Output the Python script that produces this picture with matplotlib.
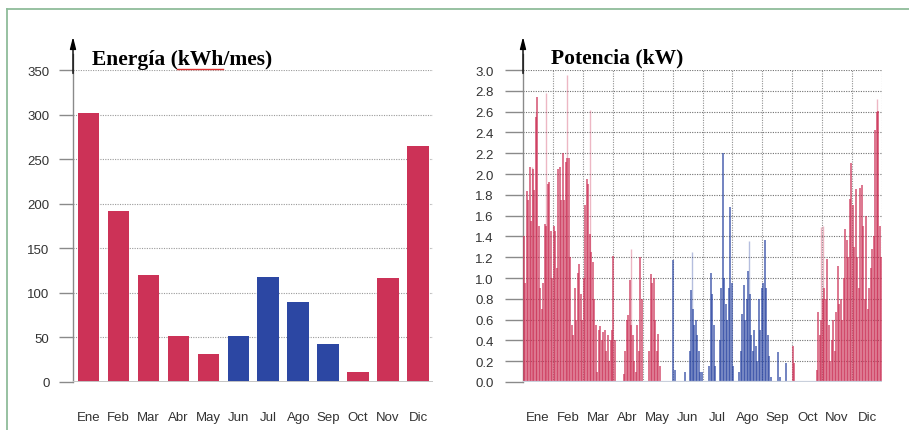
import matplotlib
matplotlib.use("Agg")
import matplotlib.pyplot as plt
from matplotlib.lines import Line2D
import numpy as np

# ---------------- data ----------------
meses = ["Ene", "Feb", "Mar", "Abr", "May", "Jun", "Jul", "Ago", "Sep", "Oct", "Nov", "Dic"]
energia = [302, 192, 120, 52, 31, 52, 118, 90, 43, 11, 117, 265]
es_azul = [False, False, False, False, False, True, True, True, True, False, False, False]

yticks_energia = [0, 50, 100, 150, 200, 250, 300, 350]
yticks_potencia = [0.0, 0.2, 0.4, 0.6, 0.8, 1.0, 1.2, 1.4, 1.6, 1.8, 2.0, 2.2, 2.4, 2.6, 2.8, 3.0]

# potencia: 20 muestras (picos) por mes, kW
pot_ene = [1.40, 0.95, 1.84, 1.75, 2.07, 1.55, 2.05, 1.85, 2.55, 2.74,
           1.50, 0.90, 0.70, 0.95, 1.52, 1.50, 1.90, 1.92, 1.45, 1.00]
pot_feb = [1.50, 1.45, 1.10, 2.05, 2.07, 1.75, 2.20, 1.75, 2.12, 2.15,
           2.15, 1.20, 0.55, 0.45, 0.90, 0.60, 1.05, 1.13, 0.85, 0.60]
pot_mar = [1.00, 1.70, 1.95, 1.90, 1.42, 1.25, 1.15, 0.80, 0.55, 0.10,
           0.50, 0.54, 0.40, 0.48, 0.50, 0.30, 0.45, 0.20, 0.40, 0.50]
pot_abr = [1.21, 0.40, 0.00, 0.00, 0.00, 0.00, 0.00, 0.08, 0.30, 0.60,
           0.64, 0.98, 0.55, 0.45, 0.20, 0.10, 0.55, 0.30, 1.20, 0.80]
pot_may = [0.00, 0.00, 0.00, 0.00, 0.30, 1.04, 0.95, 1.00, 0.60, 0.30,
           0.46, 0.15, 0.00, 0.00, 0.00, 0.00, 0.00, 0.00, 0.00, 0.00]
pot_jun = [1.17, 0.12, 0.00, 0.00, 0.00, 0.00, 0.00, 0.00, 0.10, 0.00,
           0.00, 0.30, 0.88, 0.70, 0.55, 0.60, 0.45, 0.30, 0.10, 0.10]
pot_jul = [0.00, 0.00, 0.00, 0.00, 0.15, 1.05, 0.85, 0.55, 0.15, 0.00,
           0.00, 0.40, 0.90, 2.20, 1.00, 0.75, 0.60, 0.90, 1.68, 0.95]
pot_ago = [0.15, 0.00, 0.00, 0.00, 0.10, 0.30, 0.65, 0.93, 0.60, 0.80,
           1.07, 0.85, 0.45, 0.30, 0.50, 0.35, 0.20, 0.80, 0.50, 0.90]
pot_sep = [0.95, 1.37, 0.90, 0.45, 0.25, 0.05, 0.00, 0.00, 0.00, 0.00,
           0.29, 0.05, 0.00, 0.00, 0.00, 0.18, 0.00, 0.00, 0.00, 0.00]
pot_oct = [0.35, 0.18, 0.00, 0.00, 0.00, 0.00, 0.00, 0.00, 0.00, 0.00,
           0.00, 0.00, 0.00, 0.00, 0.00, 0.00, 0.12, 0.67, 0.45, 0.60]
pot_nov = [0.80, 0.90, 0.80, 1.18, 0.55, 0.20, 0.40, 0.60, 0.30, 0.67,
           1.12, 0.75, 0.80, 0.60, 1.00, 1.47, 1.37, 1.20, 1.76, 2.11]
pot_dic = [1.70, 1.30, 1.86, 1.20, 0.90, 1.87, 1.89, 1.50, 0.80, 1.60,
           0.70, 0.90, 1.10, 1.28, 1.40, 2.42, 2.60, 2.61, 1.50, 1.20]
potencia = [pot_ene, pot_feb, pot_mar, pot_abr, pot_may, pot_jun,
            pot_jul, pot_ago, pot_sep, pot_oct, pot_nov, pot_dic]

# picos aislados (más claros), posición en meses desde el 1 de enero
picos_x = [0.30, 0.42, 0.77, 1.48, 2.23, 3.62, 5.65, 7.57, 9.97, 10.03, 11.83]
picos_y = [2.07, 2.60, 2.78, 2.95, 2.62, 1.28, 1.25, 1.36, 1.49, 1.50, 2.72]

# ---------------- style ----------------
ROJO = "#CC3257"
AZUL = "#2C47A3"
W, H = 909, 431
font = "Liberation Sans"
serif = "Liberation Serif"

fig = plt.figure(figsize=(W / 100, H / 100), dpi=100)
fig.patch.set_facecolor("white")


def px_axes(x0, x1, y_top, y_bot):
    return fig.add_axes([x0 / W, 1 - y_bot / H, (x1 - x0) / W, (y_bot - y_top) / H])


def style_axes(ax):
    for s in ["top", "right", "bottom"]:
        ax.spines[s].set_visible(False)
    ax.spines["left"].set_color("#8a8a8a")
    ax.spines["left"].set_linewidth(1.0)
    ax.tick_params(axis="y", length=10, width=1.0, color="#8a8a8a", pad=7,
                   labelsize=9.5, labelcolor="#333333")
    ax.tick_params(axis="x", length=0, pad=21, labelsize=9.5, labelcolor="#333333")
    for lab in ax.get_xticklabels() + ax.get_yticklabels():
        lab.set_family(font)
    # upward arrow on the y axis
    ax.annotate("", xy=(0, 1.115), xytext=(0, 0.98), xycoords="axes fraction",
                arrowprops=dict(arrowstyle="-|>,head_length=0.7,head_width=0.18",
                                color="black", lw=1.0), annotation_clip=False)
    ax.plot([0, 0], [1.0, 1.05], transform=ax.transAxes, color="#8a8a8a",
            lw=1.0, clip_on=False)


# ---------------- left: energía ----------------
ax1 = px_axes(73, 433, 71, 383)
x = np.arange(len(meses))
colores = [AZUL if b else ROJO for b in es_azul]
ax1.bar(x, energia, width=0.72, color=colores, zorder=3)
ax1.set_xlim(-0.52, 11.5)
ax1.set_ylim(0, 350)
ax1.set_yticks(yticks_energia)
ax1.set_yticklabels([str(v) for v in yticks_energia])
ax1.set_xticks(x)
ax1.set_xticklabels(meses)
for v in yticks_energia[1:]:
    ax1.axhline(v, color="#9a9a9a", lw=0.8, ls=(0, (1, 1.2)), zorder=1)
ax1.axhline(0, color="#c4c4c4", lw=1.4, zorder=4)
style_axes(ax1)

fig.text(92 / W, 1 - 60 / H, "Energía (kWh/mes)", family=serif, weight="bold",
         fontsize=15.5, va="center", ha="left", color="black")
fig.add_artist(Line2D([177 / W, 223 / W], [1 - 70 / H, 1 - 70 / H],
                      color="#e03030", lw=1.0))

# ---------------- right: potencia ----------------
ax2 = px_axes(523, 882, 71, 383)
ax2.set_xlim(0, 12)
ax2.set_ylim(0, 3.0)
n = len(pot_ene)
for m, vals in enumerate(potencia):
    c = AZUL if es_azul[m] else ROJO
    xs = m + (np.arange(n) + 0.5) / n
    vals = np.asarray(vals)
    mask = vals > 0
    ax2.vlines(xs[mask], 0, vals[mask], color=c, lw=1.1, alpha=0.85, zorder=3)
for px_, py_ in zip(picos_x, picos_y):
    c = AZUL if es_azul[int(px_)] else ROJO
    ax2.vlines(px_, 0, py_, color=c, lw=1.0, alpha=0.35, zorder=2)

ax2.set_yticks(yticks_potencia)
ax2.set_yticklabels([f"{v:.1f}" for v in yticks_potencia])
ax2.set_xticks(np.arange(12) + 0.5)
ax2.set_xticklabels(meses)
for v in yticks_potencia[1:]:
    ax2.axhline(v, color="#707070", lw=0.8, ls=(0, (1, 1.2)), zorder=1)
for m in range(1, 13):
    ax2.axvline(m, color="#909090", lw=0.8, ls=(0, (1, 1.2)), zorder=1)
ax2.axhline(0, color="#c9d0dc", lw=1.6, zorder=4)
style_axes(ax2)
ax2.tick_params(axis="y", length=13, pad=8)

fig.text(551 / W, 1 - 58 / H, "Potencia (kW)", family=serif, weight="bold",
         fontsize=15.5, va="center", ha="left", color="black")

# ---------------- green frame ----------------
verde = "#8fbc9a"
fig.add_artist(Line2D([7 / W, 1.0], [1 - 10 / H, 1 - 10 / H], color=verde, lw=1.3))
fig.add_artist(Line2D([7 / W, 7 / W], [0, 1 - 10 / H], color=verde, lw=1.3))

fig.savefig("out.png", dpi=100)
